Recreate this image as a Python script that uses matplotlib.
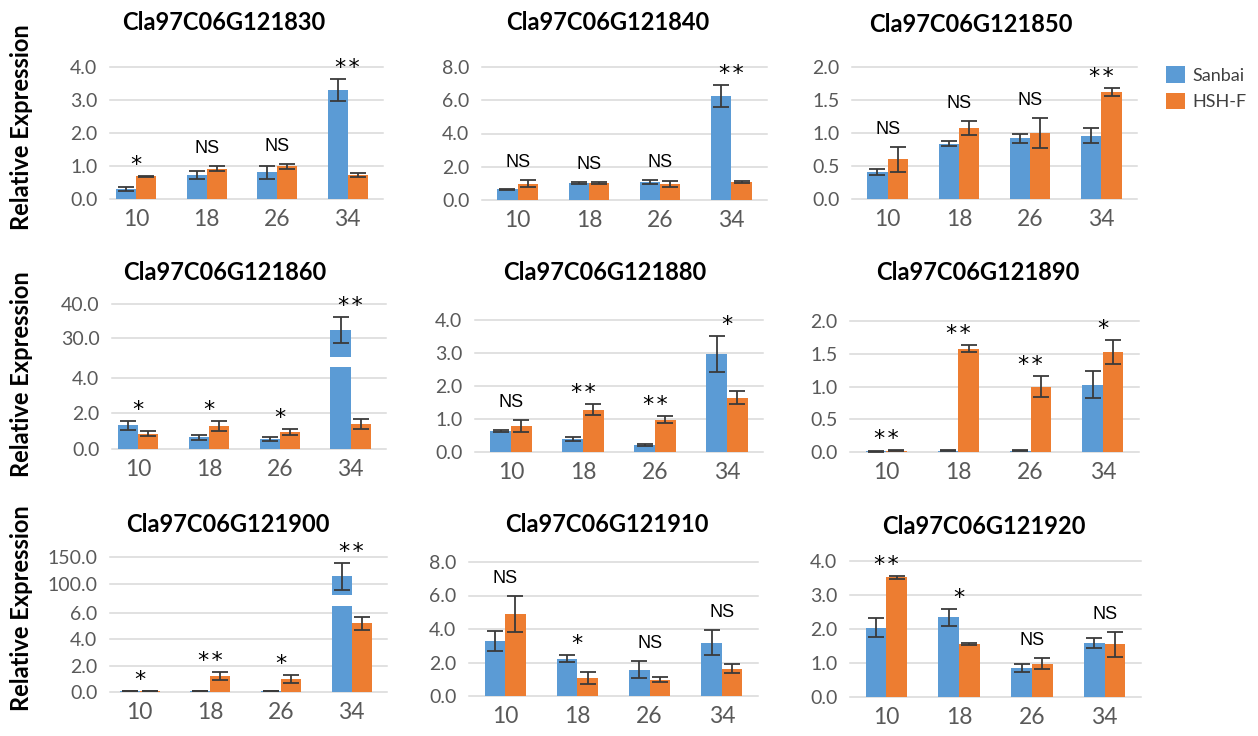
import numpy as np
import matplotlib
matplotlib.use('Agg')
import matplotlib.pyplot as plt
from matplotlib.patches import Patch

W, H = 1258, 736
BLUE = '#5B9BD5'
ORANGE = '#ED7D31'
GRID = '#D9D9D9'
TXT = '#595959'

genes = ['Cla97C06G121830', 'Cla97C06G121840', 'Cla97C06G121850',
         'Cla97C06G121860', 'Cla97C06G121880', 'Cla97C06G121890',
         'Cla97C06G121900', 'Cla97C06G121910', 'Cla97C06G121920']
days = ['10', '18', '26', '34']

sanbai = [
    [0.30, 0.73, 0.81, 3.30],
    [0.64, 1.00, 1.08, 6.25],
    [0.41, 0.84, 0.92, 0.96],
    [1.32, 0.65, 0.56, 32.4],
    [0.65, 0.39, 0.20, 2.97],
    [0.01, 0.02, 0.02, 1.03],
    [0.08, 0.05, 0.05, 115.0],
    [3.28, 2.23, 1.57, 3.18],
    [2.04, 2.34, 0.86, 1.59],
]
sanbai_err = [
    [0.06, 0.13, 0.20, 0.34],
    [0.05, 0.06, 0.12, 0.64],
    [0.045, 0.035, 0.07, 0.11],
    [0.23, 0.13, 0.09, 3.8],
    [0.03, 0.07, 0.03, 0.55],
    [0.005, 0.005, 0.005, 0.20],
    [0.01, 0.01, 0.01, 24.5],
    [0.58, 0.20, 0.50, 0.75],
    [0.27, 0.25, 0.11, 0.16],
]
hshf = [
    [0.69, 0.92, 0.99, 0.72],
    [0.98, 1.00, 0.96, 1.10],
    [0.60, 1.08, 1.00, 1.62],
    [0.86, 1.27, 0.97, 1.40],
    [0.80, 1.28, 0.98, 1.65],
    [0.02, 1.58, 1.00, 1.53],
    [0.07, 1.23, 0.95, 5.20],
    [4.92, 1.09, 0.98, 1.63],
    [3.52, 1.56, 0.98, 1.55],
]
hshf_err = [
    [0.02, 0.08, 0.07, 0.06],
    [0.22, 0.06, 0.17, 0.05],
    [0.19, 0.105, 0.225, 0.06],
    [0.14, 0.28, 0.17, 0.28],
    [0.18, 0.17, 0.10, 0.21],
    [0.005, 0.05, 0.165, 0.185],
    [0.01, 0.30, 0.30, 0.48],
    [1.07, 0.37, 0.15, 0.28],
    [0.04, 0.03, 0.17, 0.37],
]
signif = [
    ['*', 'NS', 'NS', '**'],
    ['NS', 'NS', 'NS', '**'],
    ['NS', 'NS', 'NS', '**'],
    ['*', '*', '*', '**'],
    ['NS', '**', '**', '*'],
    ['**', '**', '**', '*'],
    ['*', '**', '*', '**'],
    ['NS', '*', 'NS', 'NS'],
    ['**', '*', 'NS', 'NS'],
]
yticks = [
    [0, 1, 2, 3, 4],
    [0, 2, 4, 6, 8],
    [0, 0.5, 1.0, 1.5, 2.0],
    [0, 2, 4, 30, 40],
    [0, 1, 2, 3, 4],
    [0, 0.5, 1.0, 1.5, 2.0],
    [0, 2, 4, 6, 100, 150],
    [0, 2, 4, 6, 8],
    [0, 1, 2, 3, 4],
]

# broken y axes: (lower max, upper min, upper max)
breaks = {3: (4.58, 24.5, 40), 6: (6.53, 80.5, 150)}

# plot boxes in pixels: left, right, bottom, top, left pad in categories
boxes = [
    (110, 383, 199, 67, 0.37), (482, 767, 200, 67, 0.5), (852, 1137, 199, 67, 0.5),
    (112, 386, 449, 304, 0.37), (475, 763, 452, 320, 0.5), (850, 1139, 452, 321, 0.5),
    (110, 387, 692, 557, 0.42), (469, 758, 696, 562, 0.5), (850, 1141, 697, 561, 0.5),
]
# lower top / upper bottom pixel for the broken panels
break_px = {3: (367.3, 357.3), 6: (605.7, 595.0)}
title_pos = [(224, 22), (608, 23), (971, 24), (225, 273), (605, 273), (978, 273),
             (228, 524), (607, 524), (984, 527)]
ylabel_y = [127, 374, 608]

fig = plt.figure(figsize=(W / 100, H / 100), dpi=100)


def fig_box(l, r, b, t):
    return [l / W, 1 - b / H, (r - l) / W, (b - t) / H]


def style(ax, lpad, ticks, lo, hi, show_x):
    ax.set_xlim(-lpad, 3.5)
    ax.set_ylim(lo, hi)
    for s in ax.spines.values():
        s.set_visible(False)
    ax.set_yticks([t for t in ticks if lo <= t <= hi])
    ax.set_yticklabels(['%.1f' % t for t in ticks if lo <= t <= hi])
    ax.yaxis.grid(True, color=GRID, lw=1.1)
    for g in ax.get_ygridlines():
        g.set_clip_on(False)
    ax.set_axisbelow(True)
    ax.tick_params(axis='y', length=0, pad=9, labelsize=14, labelcolor=TXT)
    ax.tick_params(axis='x', length=0, pad=7, labelsize=16.5, labelcolor=TXT)
    ax.set_xticks(range(4))
    if show_x:
        ax.set_xticklabels(days)
    else:
        ax.set_xticklabels([])
    for lab in ax.get_xticklabels() + ax.get_yticklabels():
        lab.set_family('Lato')


def draw_bars(ax, i):
    x = np.arange(4)
    w = 0.285
    ekw = dict(ecolor='#3a3a3a', elinewidth=1.3, capsize=6, capthick=1.3)
    ax.bar(x - w / 2, sanbai[i], w, color=BLUE, yerr=sanbai_err[i], error_kw=ekw)
    ax.bar(x + w / 2, hshf[i], w, color=ORANGE, yerr=hshf_err[i], error_kw=ekw)


for i in range(9):
    l, r, b, t, lpad = boxes[i]
    if i in breaks:
        lo_max, hi_min, hi_max = breaks[i]
        lo_top, hi_bot = break_px[i]
        ax_lo = fig.add_axes(fig_box(l, r, b, lo_top))
        ax_hi = fig.add_axes(fig_box(l, r, hi_bot, t))
        draw_bars(ax_lo, i)
        draw_bars(ax_hi, i)
        style(ax_lo, lpad, yticks[i], 0, lo_max, True)
        style(ax_hi, lpad, yticks[i], hi_min, hi_max, False)
    else:
        lo_max = None
        ax_lo = ax_hi = fig.add_axes(fig_box(l, r, b, t))
        draw_bars(ax_lo, i)
        style(ax_lo, lpad, yticks[i], 0, yticks[i][-1], True)

    for j, lab in enumerate(signif[i]):
        top = max(sanbai[i][j] + sanbai_err[i][j], hshf[i][j] + hshf_err[i][j])
        ax = ax_hi if (lo_max is not None and top > lo_max) else ax_lo
        if lab == 'NS':
            ax.annotate(lab, xy=(j, top), xytext=(0, 13), textcoords='offset pixels',
                        ha='center', va='baseline', fontsize=13,
                        family='Liberation Sans', color='black')
        else:
            ax.annotate('\u200a'.join(lab), xy=(j, top), xytext=(0, 5),
                        textcoords='offset pixels', ha='center', va='baseline',
                        fontsize=16, family='DejaVu Sans', color='black')

    tx, ty = title_pos[i]
    fig.text(tx / W, 1 - ty / H, genes[i], ha='center', va='center',
             fontsize=17, fontweight='bold', family='Lato', color='black')

for y in ylabel_y:
    fig.text(22 / W, 1 - y / H, 'Relative Expression', rotation=90, ha='center',
             va='center', fontsize=17, fontweight='bold', family='Lato', color='black')

handles = [Patch(facecolor=BLUE, label='Sanbai'), Patch(facecolor=ORANGE, label='HSH-F')]
leg = fig.legend(handles=handles, loc='upper left', bbox_to_anchor=(1166 / W, 1 - 66 / H),
                 frameon=False, fontsize=13, handlelength=1.05, handleheight=1.05,
                 handletextpad=0.4, labelspacing=0.5, borderaxespad=0, borderpad=0)
for txt in leg.get_texts():
    txt.set_family('Lato')
    txt.set_color('#404040')

fig.savefig('out.png', dpi=100)
